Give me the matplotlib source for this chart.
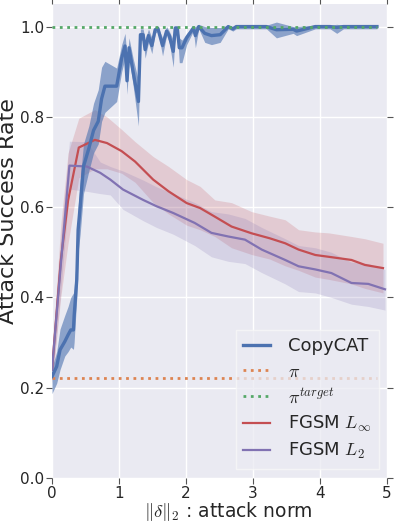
import numpy as np
import matplotlib
matplotlib.use("Agg")
import matplotlib.pyplot as plt

# ---------------- data ----------------
copycat_x = [0.00, 0.07, 0.12, 0.19, 0.24, 0.28, 0.32, 0.33, 0.37, 0.39, 0.42, 0.47, 0.55, 0.62,
             0.69, 0.74, 0.79, 0.965, 1.04, 1.09, 1.12, 1.15, 1.21, 1.29, 1.32, 1.36, 1.39, 1.44,
             1.49, 1.54, 1.58, 1.65, 1.71, 1.75, 1.81, 1.84, 1.87, 1.90, 1.94, 2.01, 2.11, 2.14,
             2.19, 2.28, 2.38, 2.51, 2.63, 2.70, 2.75, 3.20, 3.35, 3.60, 3.65, 3.93, 4.15, 4.25,
             4.35, 4.85]
copycat_y = [0.225, 0.247, 0.284, 0.302, 0.317, 0.328, 0.328, 0.358, 0.44, 0.55, 0.60, 0.69, 0.73, 0.77,
             0.79, 0.84, 0.868, 0.868, 0.93, 0.957, 0.88, 0.953, 0.90, 0.834, 0.982, 0.982, 0.949, 0.98,
             0.958, 0.993, 0.996, 0.958, 0.99, 0.98, 0.945, 0.997, 0.997, 0.953, 0.953, 0.975, 0.997, 0.98,
             1.0, 0.985, 0.98, 0.982, 1.0, 0.995, 1.0, 1.0, 0.993, 0.994, 0.99, 1.0, 1.0, 0.998,
             1.0, 1.0]
copycat_lo = [0.187, 0.21, 0.24, 0.27, 0.28, 0.29, 0.285, 0.30, 0.40, 0.50, 0.54, 0.63, 0.68, 0.72,
              0.74, 0.79, 0.81, 0.834, 0.90, 0.93, 0.85, 0.93, 0.87, 0.78, 0.97, 0.97, 0.93, 0.965,
              0.94, 0.985, 0.99, 0.935, 0.98, 0.965, 0.91, 0.99, 0.99, 0.92, 0.92, 0.96, 0.99, 0.953,
              0.995, 0.965, 0.96, 0.965, 0.995, 0.99, 0.995, 0.995, 0.975, 0.985, 0.98, 0.995, 0.995, 0.985,
              0.995, 0.995]
copycat_hi = [0.245, 0.28, 0.33, 0.36, 0.38, 0.40, 0.41, 0.42, 0.50, 0.60, 0.66, 0.74, 0.78, 0.83,
              0.86, 0.91, 0.923, 0.908, 0.96, 0.985, 0.93, 0.975, 0.93, 0.88, 0.995, 0.995, 0.97, 0.995,
              0.975, 1.0, 1.0, 0.975, 1.0, 0.99, 0.97, 1.0, 1.0, 0.975, 0.97, 0.985, 1.0, 1.0,
              1.005, 1.0, 0.998, 0.998, 1.003, 1.0, 1.003, 1.003, 1.01, 1.0, 1.0, 1.003, 1.003, 1.005,
              1.003, 1.003]

pi_level = 0.222
pi_target_level = 1.0
baseline_x = [0.0, 4.85]

fgsm_inf_x = [0.0, 0.13, 0.24, 0.40, 0.64, 0.82, 1.04, 1.24, 1.51, 1.74, 2.01, 2.21, 2.43, 2.68,
              2.98, 3.25, 3.48, 3.68, 3.93, 4.13, 4.47, 4.67, 4.94]
fgsm_inf_y = [0.24, 0.48, 0.615, 0.732, 0.749, 0.742, 0.724, 0.701, 0.661, 0.635, 0.609, 0.598, 0.579, 0.557,
              0.542, 0.531, 0.520, 0.506, 0.494, 0.490, 0.483, 0.472, 0.465]
fgsm_inf_lo = [0.21, 0.40, 0.52, 0.665, 0.685, 0.685, 0.675, 0.655, 0.61, 0.585, 0.56, 0.55, 0.535, 0.51,
               0.495, 0.485, 0.47, 0.46, 0.445, 0.44, 0.43, 0.42, 0.41]
fgsm_inf_hi = [0.27, 0.56, 0.72, 0.797, 0.816, 0.80, 0.772, 0.745, 0.712, 0.69, 0.661, 0.646, 0.616, 0.61,
               0.59, 0.58, 0.572, 0.55, 0.545, 0.543, 0.535, 0.53, 0.52]

fgsm_l2_x = [0.0, 0.13, 0.26, 0.52, 0.72, 0.87, 1.06, 1.36, 1.56, 1.81, 2.13, 2.38, 2.63, 2.88,
             3.13, 3.48, 3.68, 3.93, 4.17, 4.47, 4.72, 4.97]
fgsm_l2_y = [0.24, 0.47, 0.692, 0.690, 0.676, 0.661, 0.639, 0.616, 0.602, 0.587, 0.565, 0.543, 0.535, 0.528,
             0.506, 0.483, 0.469, 0.462, 0.454, 0.432, 0.430, 0.418]
fgsm_l2_lo = [0.21, 0.41, 0.64, 0.635, 0.63, 0.627, 0.595, 0.57, 0.555, 0.54, 0.515, 0.49, 0.48, 0.475,
              0.455, 0.43, 0.413, 0.41, 0.40, 0.385, 0.38, 0.372]
fgsm_l2_hi = [0.27, 0.53, 0.746, 0.745, 0.70, 0.69, 0.68, 0.66, 0.645, 0.63, 0.61, 0.59, 0.585, 0.575,
              0.555, 0.53, 0.515, 0.51, 0.50, 0.478, 0.475, 0.462]

x_ticks = [0, 1, 2, 3, 4, 5]
y_ticks = [0.0, 0.2, 0.4, 0.6, 0.8, 1.0]

# ---------------- style ----------------
plt.rcParams['font.family'] = ['DejaVu Sans']
plt.rcParams['mathtext.fontset'] = 'cm'

blue = '#4C72B0'
orange = '#DD8452'
green = '#55A868'
red = '#C44E52'
purple = '#8172B2'
textc = '#262626'

fig = plt.figure(figsize=(3.95, 5.23), dpi=100)
ax = fig.add_axes([52/395, 45/523, 335/395, 474/523])
ax.set_facecolor('#EAEAF2')
for s in ax.spines.values():
    s.set_visible(False)
ax.grid(True, color='white', linewidth=1.0)
ax.set_axisbelow(True)

ax.fill_between(fgsm_inf_x, fgsm_inf_lo, fgsm_inf_hi, color=red, alpha=0.2, linewidth=0)
ax.fill_between(fgsm_l2_x, fgsm_l2_lo, fgsm_l2_hi, color=purple, alpha=0.2, linewidth=0)
ax.fill_between(copycat_x, copycat_lo, copycat_hi, color=blue, alpha=0.6, linewidth=0)

ax.plot(copycat_x, copycat_y, color=blue, lw=2.4, label='CopyCAT', zorder=4)
ax.plot(baseline_x, [pi_level]*2, color=orange, lw=2.0, ls=':', label=r'$\pi$', zorder=3)
ax.plot(baseline_x, [pi_target_level]*2, color=green, lw=2.0, ls=':', label=r'$\pi^{target}$', zorder=5)
ax.plot(fgsm_inf_x, fgsm_inf_y, color=red, lw=1.6, label=r'FGSM $L_\infty$', zorder=3)
ax.plot(fgsm_l2_x, fgsm_l2_y, color=purple, lw=1.6, label=r'FGSM $L_2$', zorder=3)

ax.set_xlim(0, 5)
ax.set_ylim(0, 1.05)
ax.set_xticks(x_ticks)
ax.set_yticks(y_ticks)
ax.set_yticklabels([f'{v:.1f}' for v in y_ticks])
ax.tick_params(axis='both', which='both', direction='out', length=4, width=0.8,
               colors='#555555', labelcolor=textc, labelsize=11,
               top=True, right=True, pad=1.5)

ax.set_ylabel('Attack Success Rate', fontsize=16, color=textc)
ax.set_xlabel(r'$\|\delta\|_2$ : attack norm', fontsize=13.5, color=textc)
ax.yaxis.set_label_coords(-0.10, 0.563)
ax.xaxis.set_label_coords(0.525, -0.046)

leg = ax.legend(loc='lower right', bbox_to_anchor=(0.975, 0.02), borderaxespad=0,
                fontsize=13, frameon=True, fancybox=False, framealpha=0.75,
                facecolor='#EAEAF2', edgecolor='#F8F8F8', handlelength=1.5,
                handletextpad=1.0, labelspacing=0.4)
for t in leg.get_texts():
    t.set_color(textc)

fig.savefig('out.png', dpi=100)
